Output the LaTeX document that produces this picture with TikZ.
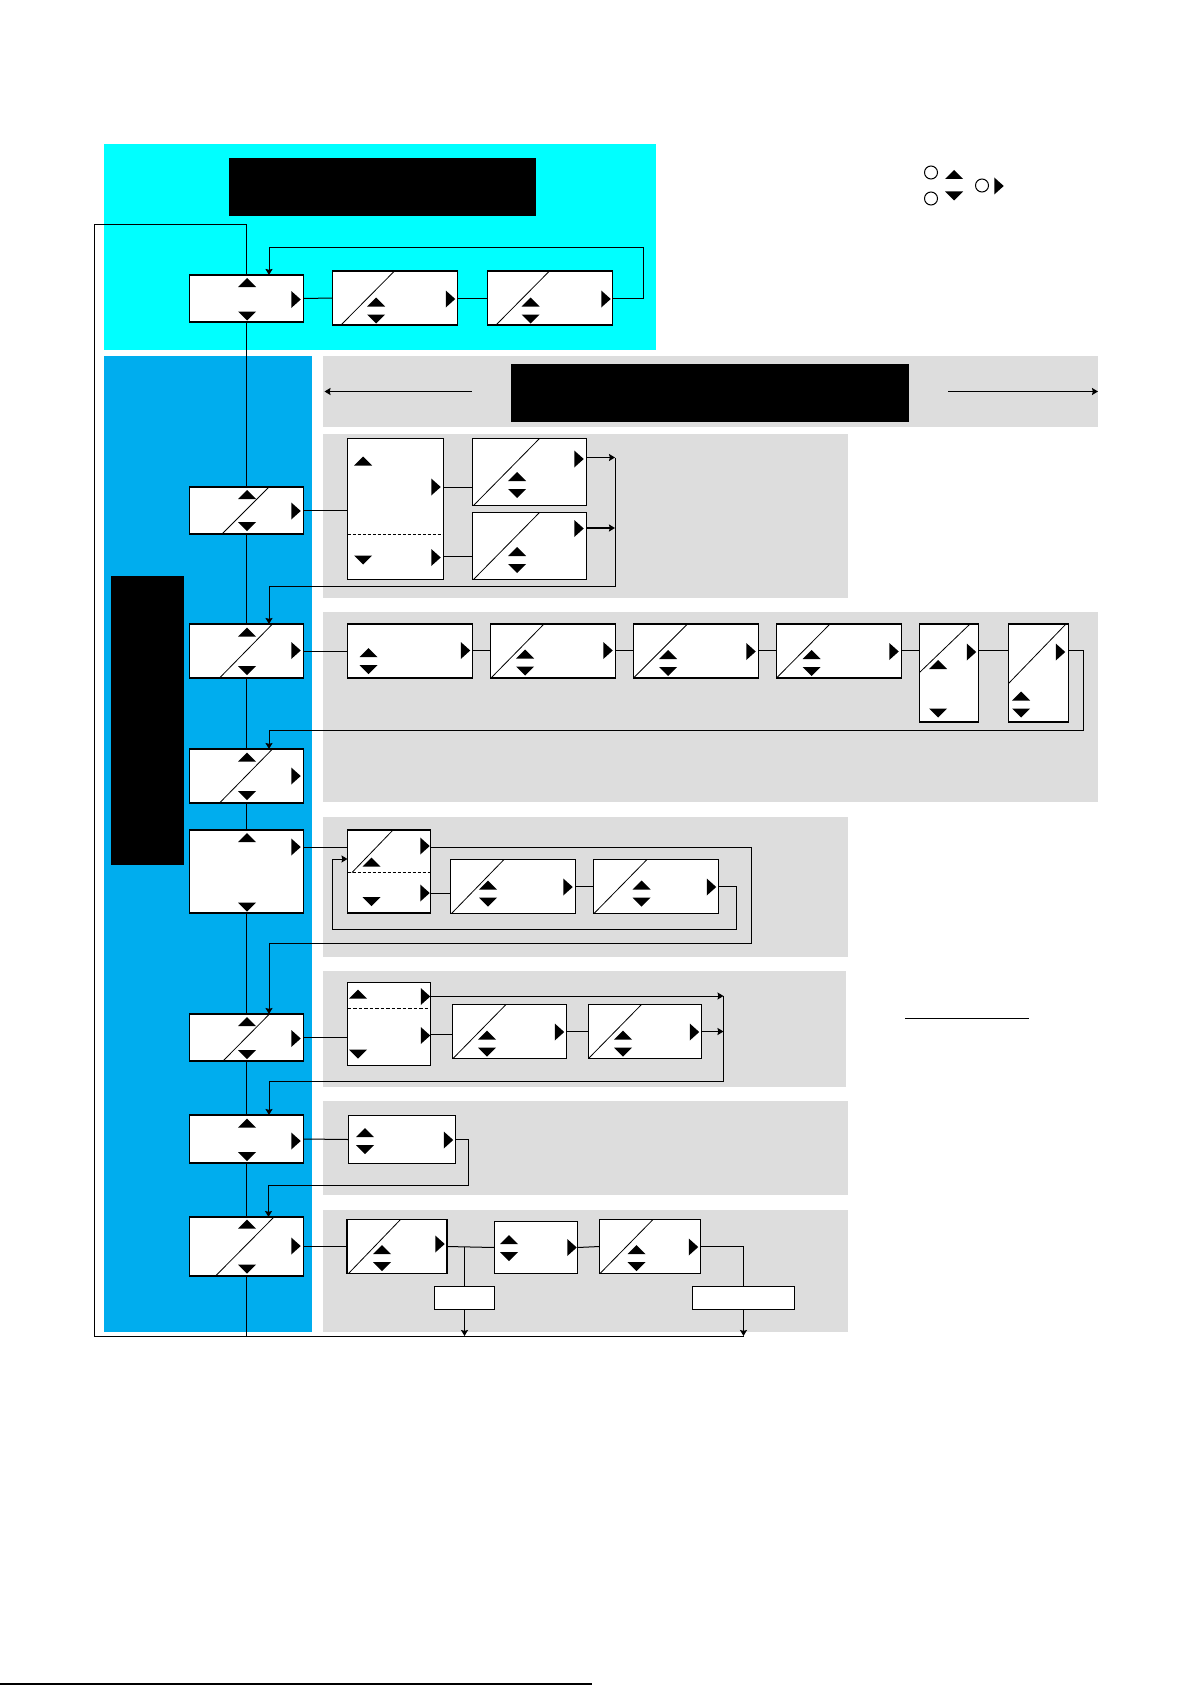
\documentclass[tikz,border=0pt]{standalone}
\usepackage{tikz}
\usetikzlibrary{arrows.meta}
\definecolor{topcyan}{RGB}{0,255,255}
\definecolor{menublue}{RGB}{0,173,238}
\definecolor{panel}{RGB}{221,221,221}
\tikzstyle{bx}=[draw,fill=white,line width=0.65pt,inner sep=0pt,outer sep=0pt,anchor=north west]
\tikzstyle{blk}=[fill=black,inner sep=0pt,outer sep=0pt,anchor=north west]
\tikzstyle{ln}=[line width=0.5pt]
\tikzstyle{fwd}=[->,>={Stealth[length=3pt,width=3.5pt,inset=0.4pt]},line width=0.5pt]
\tikzstyle{dg}=[line width=0.4pt]
\tikzset{
  sz/.style 2 args={minimum width=#1*0.5pt,minimum height=#2*0.5pt},
  triup/.pic={\fill (-9,4.5) -- (9,4.5) -- (0,-4.5) -- cycle;},
  tridn/.pic={\fill (-9,-4.5) -- (9,-4.5) -- (0,4.5) -- cycle;},
  trirt/.pic={\fill (-4.75,-8.5) -- (-4.75,8.5) -- (4.75,0) -- cycle;},
  triud/.pic={\fill (-9,-4) -- (9,-4) -- (0,-13) -- cycle;
              \fill (-9,4) -- (9,4) -- (0,13) -- cycle;}
}
\begin{document}
\begin{tikzpicture}[x=0.5pt,y=-0.5pt]
\useasboundingbox (0,0) rectangle (1191,1685);
% backgrounds
\fill[topcyan] (104,144) rectangle (656,350);
\fill[menublue] (104,356) rectangle (312,1332);
\fill[panel] (323,356) rectangle (1098,427);
\fill[panel] (323,434) rectangle (848,598);
\fill[panel] (323,612) rectangle (1098,802);
\fill[panel] (323,817) rectangle (848,957);
\fill[panel] (323,971) rectangle (846,1087);
\fill[panel] (323,1101) rectangle (848,1195);
\fill[panel] (323,1210) rectangle (848,1332);
\node[blk,sz={307}{58}] (title) at (229,158) {};
\node[blk,sz={398}{58}] (hdr) at (511,364) {};
\node[blk,sz={73}{289}] (side) at (111,576) {};

% legend
\draw[line width=0.5pt] (931,172.5) circle (6.5) (931,198.5) circle (6.5) (982,185.5) circle (6.5);
\pic at (954,174.5) {triup};
\pic at (954,196) {tridn};
\pic at (999,186) {trirt};
\draw[line width=0.75pt] (905,1018.5) -- (1029,1018.5);

% menu column
\node[bx,sz={114}{47}] (c1) at (189.5,275) {};
\node[bx,sz={114}{47}] (c2) at (189.5,487) {};
\node[bx,sz={114}{54}] (c3) at (189.5,624) {};
\node[bx,sz={114}{54}] (c4) at (189.5,749) {};
\node[bx,sz={114}{83}] (c5) at (189.5,830) {};
\node[bx,sz={114}{47}] (c6) at (189.5,1014) {};
\node[bx,sz={114}{48}] (c7) at (189.5,1115) {};
\node[bx,sz={114}{59}] (c8) at (189.5,1217) {};
\draw[dg] (222,534) -- (269,487);
\draw[dg] (219.5,678) -- (272.5,624);
\draw[dg] (219.5,803) -- (272.5,749);
\draw[dg] (223,1061) -- (269.5,1014);
\draw[dg] (215.5,1276) -- (274,1217);
\foreach \u/\d/\r in {282.5/316/299.5, 494.5/526.5/511, 632/670.5/650.5, 757/795.5/776,
    837.5/907/847, 1021.5/1054.5/1038.5, 1123/1156.5/1141, 1224/1269/1246}{
  \pic at (247,\u) {triup};
  \pic at (247,\d) {tridn};
  \pic at (296,\r) {trirt};
}

% top row
\node[bx,sz={125}{54}] (t1) at (332.5,271) {};
\node[bx,sz={125}{54}] (t2) at (487.5,271) {};
\draw[dg] (341,325) -- (394.5,271);
\draw[dg] (496,325) -- (549.5,271);
\pic at (376,310.5) {triud};
\pic at (450.5,299) {trirt};
\pic at (530.5,310.5) {triud};
\pic at (606,299) {trirt};

% section 1
\node[bx,sz={96}{141}] (a1) at (347.5,438.5) {};
\node[bx,sz={114}{67}] (a2) at (472.5,438.5) {};
\node[bx,sz={114}{67}] (a3) at (472.5,512.5) {};
\draw[dashed,dash pattern=on 1.5pt off 1pt,line width=0.5pt] (a1.west |- 0,534.5) -- (a1.east |- 0,534.5);
\draw[dg] (473.5,505.5) -- (539.5,438.5);
\draw[dg] (473.5,579.5) -- (539.5,512.5);
\pic at (363,461) {triup};
\pic at (363,560) {tridn};
\pic at (436,487) {trirt};
\pic at (436,557.5) {trirt};
\pic at (517,485) {triud};
\pic at (579,459) {trirt};
\pic at (517,560) {triud};
\pic at (579,528.5) {trirt};

% section 2
\node[bx,sz={125}{54}] (b1) at (347.5,624) {};
\node[bx,sz={125}{54}] (b2) at (490.5,624) {};
\node[bx,sz={125}{54}] (b3) at (633.5,624) {};
\node[bx,sz={125}{54}] (b4) at (776.5,624) {};
\node[bx,sz={59}{98}] (b5) at (919.5,624) {};
\node[bx,sz={60}{98}] (b6) at (1008.5,624) {};
\draw[dg] (491,678) -- (544,624);
\draw[dg] (633.5,678) -- (687.5,624);
\draw[dg] (776.5,678) -- (830,624);
\draw[dg] (919.5,672.5) -- (970,624);
\draw[dg] (1008.5,683.5) -- (1066,624);
\pic at (368.5,661) {triud};
\pic at (465.5,650.5) {trirt};
\pic at (525,662.5) {triud};
\pic at (608,650.5) {trirt};
\pic at (668,663) {triud};
\pic at (751,651.5) {trirt};
\pic at (811.5,663) {triud};
\pic at (894,651.5) {trirt};
\pic at (938,664.5) {triup};
\pic at (938,713) {tridn};
\pic at (971.5,652) {trirt};
\pic at (1021,704.5) {triud};
\pic at (1060.5,652) {trirt};

% section 3
\node[bx,sz={83}{83}] (d1) at (347.5,830) {};
\node[bx,sz={125}{54}] (d2) at (450.5,859.5) {};
\node[bx,sz={125}{54}] (d3) at (593.5,859.5) {};
\draw[dashed,dash pattern=on 1.5pt off 1pt,line width=0.5pt] (d1.west |- 0,872.5) -- (d1.east |- 0,872.5);
\draw[dg] (352,872.5) -- (393,830);
\draw[dg] (451.5,913.5) -- (504,859.5);
\draw[dg] (594,913.5) -- (647,859.5);
\pic at (371.5,862) {triup};
\pic at (371.5,901.5) {tridn};
\pic at (425,846) {trirt};
\pic at (425,893) {trirt};
\pic at (488,893.5) {triud};
\pic at (568,887) {trirt};
\pic at (641.5,893.5) {triud};
\pic at (711.5,887) {trirt};

% section 4
\node[bx,sz={83}{83}] (e1) at (347.5,982.5) {};
\node[bx,sz={114}{54}] (e2) at (452.5,1004.5) {};
\node[bx,sz={113}{54}] (e3) at (588.5,1004.5) {};
\draw[dashed,dash pattern=on 1.75pt off 1pt,line width=0.8pt] (e1.west |- 0,1008.5) -- (e1.east |- 0,1008.5);
\draw[dg] (453,1058.5) -- (506,1004.5);
\draw[dg] (588.5,1058.5) -- (641.5,1004.5);
\pic at (358,994) {triup};
\pic at (358,1054) {tridn};
\pic at (425.5,996.5) {trirt};
\pic at (425.5,1035.5) {trirt};
\pic at (487,1043.5) {triud};
\pic at (559.5,1032) {trirt};
\pic at (623,1043.5) {triud};
\pic at (694.5,1032) {trirt};

% section 5
\node[bx,sz={107}{48}] (f1) at (348.5,1115.5) {};
\pic at (365,1141) {triud};
\pic at (448.5,1140) {trirt};

% section 6
\node[bx,sz={100}{54}] (g1) at (347,1219.5) {};
\node[bx,sz={83}{52}] (g2) at (494.5,1221.5) {};
\node[bx,sz={101}{54}] (g3) at (599.5,1219.5) {};
\node[bx,sz={60}{23}] (g4) at (434.5,1286.5) {};
\node[bx,sz={102}{23}] (g5) at (692.5,1286.5) {};
\draw[dg] (348.5,1273.5) -- (400.5,1219.5);
\draw[dg] (600,1273.5) -- (653,1219.5);
\pic at (382,1258) {triud};
\pic at (440,1244) {trirt};
\pic at (509,1248) {triud};
\pic at (572,1247.5) {trirt};
\pic at (636.5,1258) {triud};
\pic at (693.5,1247) {trirt};

% connectors
\foreach \i/\j in {c1/c2,c2/c3,c3/c4,c4/c5,c5/c6,c6/c7,c7/c8}
  \draw[ln] (\i.south) -- (\j.north);
\draw[ln] (c1.east) -- (t1.west);
\draw[ln] (t1.east) -- (t2.west);
\draw[fwd] (t2.east) -- ++(31,0) |- (269,248) -- (c1.north -| 269,0);
\draw[fwd] (471.5,391.5) -- (324.5,391.5);
\draw[fwd] (948,391.5) -- (1098,391.5);

\draw[ln] (c2.east) -- (c2.east -| a1.west);
\draw[ln] (a1.east |- 0,487.5) -- (a2.west |- 0,487.5);
\draw[ln] (a1.east |- 0,556.5) -- (a3.west |- 0,556.5);
\draw[fwd] (a2.east |- 0,457.5) -- (615,457.5);
\draw[fwd,line width=0.9pt] (a3.east |- 0,528) -- (615,528);
\draw[fwd] (615,457.5) -- (615,586) -- (269,586) -- (c3.north -| 269,0);

\draw[ln] (c3.east) -- (b1.west);
\foreach \i/\j in {b1/b2,b2/b3,b3/b4,b4/b5,b5/b6}
  \draw[ln] (\i.east |- 0,650.5) -- (\j.west |- 0,650.5);
\draw[fwd] (b6.east |- 0,650.5) -- (1083.5,650.5) -- (1083.5,730) -- (269,730) -- (c4.north -| 269,0);

\draw[ln] (c5.east |- 0,847.5) -- (d1.west |- 0,847.5);
\draw[fwd] (d1.east |- 0,847.5) -- (751,847.5) -- (751,943.5) -- (269,943.5) -- (c6.north -| 269,0);
\draw[ln] (d1.east |- 0,893) -- (d2.west |- 0,893);
\draw[ln] (d2.east) -- (d3.west);
\draw[fwd] (d3.east) -- (736.5,886.5) -- (736.5,929) -- (332.5,929) -- (332.5,859) -- (d1.west |- 0,859);

\draw[ln] (c6.east) -- (c6.east -| e1.west);
\draw[fwd] (e1.east |- 0,996) -- (723.5,996);
\draw[ln] (e1.east |- 0,1034) -- (e2.west |- 0,1034);
\draw[ln,line width=0.9pt] (e2.east) -- (e3.west);
\draw[fwd,line width=0.9pt] (e3.east) -- (723.5,1031.5);
\draw[fwd] (723.5,996) -- (723.5,1081.5) -- (269,1081.5) -- (c7.north -| 269,0);

\draw[ln] (c7.east) -- (f1.west);
\draw[fwd] (f1.east) -- (468,1139.5) -- (468,1185) -- (268.5,1185) -- (c8.north -| 268.5,0);

\draw[ln] (c8.east) -- (g1.west);
\draw[ln] (g1.east) -- (g2.west);
\draw[ln] (g4.north |- g1.east) -- (g4.north);
\draw[ln] (g2.east) -- (g3.west);
\draw[ln] (g3.east) -| (g5.north);
\draw[fwd] (g4.south) -- (g4.south |- 0,1336);
\draw[fwd] (g5.south) -- (g5.south |- 0,1336);
\draw[ln] (c8.south) -- (c8.south |- 0,1336);
\draw[ln] (g5.south |- 0,1336) -- (94.5,1336) -- (94.5,224.5) -| (c1.north);

\draw[line width=1pt] (0,1684) -- (592,1684);
\end{tikzpicture}
\end{document}
